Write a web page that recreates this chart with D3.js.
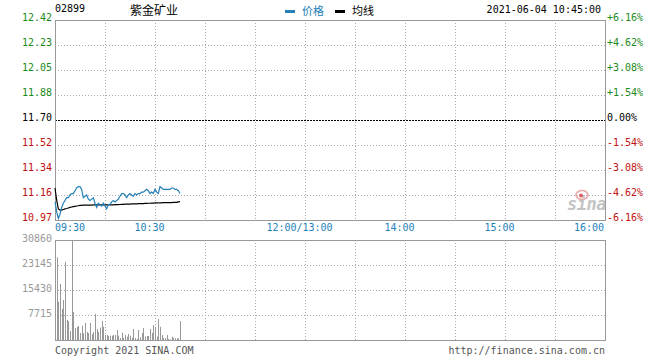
<!DOCTYPE html>
<html>
  <head>
    <meta charset="utf-8">
    <title>紫金矿业 分时</title>
    <script src="https://d3js.org/d3.v7.min.js"></script>
    <style>
      body { margin: 0; background: #fff; }
      text { font-family: "DejaVu Sans Mono", monospace; font-size: 10px; }
      .cjk { font-family: "Noto Sans CJK SC", sans-serif; }
    </style>
  </head>
  <body>
    <svg id="chart" width="660" height="360"></svg>
    <script>
      // 02899 minute data, 09:30 - 10:45 (one value per minute)
      const prevClose = 11.70;
      const maxPct = 0.0616;
      const prices = [
        11.11, 11.04, 10.99, 11.02, 11.07, 11.10, 11.12, 11.14, 11.14, 11.16,
        11.17, 11.17, 11.19, 11.21, 11.22, 11.22, 11.20, 11.14, 11.15, 11.16,
        11.13, 11.12, 11.13, 11.14, 11.10, 11.07, 11.10, 11.09, 11.08, 11.10,
        11.08, 11.06, 11.09, 11.09, 11.11, 11.12, 11.11, 11.12, 11.13, 11.15,
        11.17, 11.17, 11.16, 11.14, 11.16, 11.17, 11.16, 11.15, 11.17, 11.16,
        11.17, 11.17, 11.18, 11.18, 11.19, 11.20, 11.19, 11.17, 11.18, 11.17,
        11.20, 11.18, 11.17, 11.22, 11.21, 11.20, 11.20, 11.20, 11.20, 11.20,
        11.21, 11.21, 11.20, 11.20, 11.19, 11.17
      ];
      const avgPrices = [
        11.210, 11.123, 11.059, 11.051, 11.051, 11.055, 11.059, 11.062, 11.066, 11.070,
        11.073, 11.076, 11.078, 11.080, 11.082, 11.084, 11.085, 11.086, 11.087, 11.087,
        11.087, 11.087, 11.087, 11.088, 11.088, 11.088, 11.088, 11.088, 11.088, 11.088,
        11.088, 11.088, 11.088, 11.089, 11.089, 11.089, 11.090, 11.090, 11.090, 11.091,
        11.092, 11.092, 11.093, 11.093, 11.094, 11.094, 11.095, 11.095, 11.096, 11.096,
        11.097, 11.097, 11.098, 11.098, 11.099, 11.099, 11.100, 11.100, 11.101, 11.101,
        11.102, 11.102, 11.102, 11.103, 11.103, 11.104, 11.104, 11.104, 11.105, 11.105,
        11.105, 11.106, 11.106, 11.106, 11.110, 11.112
      ];
      const volumes = [
        20000, 25520, 11820, 17280, 9570, 12340, 24160, 6170, 5860, 2780,
        30860, 8640, 3700, 4010, 4320, 2160, 4410, 2160, 5250, 2470,
        2160, 5250, 1850, 2470, 8020, 3390, 2470, 3800, 5860, 4100,
        1540, 1540, 1230, 1330, 1330, 1540, 1540, 3090, 1330, 620,
        2250, 620, 1540, 1020, 1850, 1330, 710, 3390, 620, 310,
        3090, 830, 2160, 3700, 1020, 1230, 1230, 3390, 2160, 4630,
        4100, 1020, 6480, 4100, 1540, 620, 620, 1540, 310, 220,
        1020, 710, 520, 520, 520, 5860
      ];
      const volMax = 30860;

      const priceLabels = ["12.42", "12.23", "12.05", "11.88", "11.70", "11.52", "11.34", "11.16", "10.97"];
      const pctLabels = ["+6.16%", "+4.62%", "+3.08%", "+1.54%", "0.00%", "-1.54%", "-3.08%", "-4.62%", "-6.16%"];
      const volLabels = ["30860", "23145", "15430", "7715"];
      const timeTicks = [0, 60, 150, 210, 270, 330];
      const timeLabels = ["09:30", "10:30", "12:00/13:00", "14:00", "15:00", "16:00"];

      const green = "#1a8a1a", red = "#c01010", blue = "#2381b8", grid = "#aaa", frame = "#999";

      const svg = d3.select("#chart");
      const left = 55, right = 605;
      const pTop = 20, pBot = 220, vTop = 240, vBot = 340;

      // trading minutes since 09:30 (lunch removed)
      const x = d3.scaleLinear().domain([0, 330]).range([left, right]);
      const y = d3.scaleLinear()
        .domain([prevClose * (1 - maxPct), prevClose * (1 + maxPct)])
        .range([pBot, pTop]);
      const yv = d3.scaleLinear().domain([0, volMax]).range([vBot, vTop]);

      const levels = d3.range(9).map(k => prevClose * (1 + maxPct - k * maxPct / 4));
      const gridMinutes = d3.range(30, 330, 30);

      // grid: price pane
      svg.append("g").selectAll("line")
        .data(levels.filter((d, i) => i > 0 && i < 8 && i != 4))
        .join("line")
        .attr("x1", left).attr("x2", right)
        .attr("y1", d => Math.round(y(d)) + 0.5).attr("y2", d => Math.round(y(d)) + 0.5)
        .attr("stroke", grid).attr("stroke-dasharray", "1,2");
      svg.append("line")
        .attr("x1", left).attr("x2", right)
        .attr("y1", Math.round(y(prevClose)) + 0.5).attr("y2", Math.round(y(prevClose)) + 0.5)
        .attr("stroke", "#000").attr("stroke-dasharray", "2,1");
      svg.append("g").selectAll("line")
        .data(gridMinutes)
        .join("line")
        .attr("x1", d => Math.round(x(d)) + 0.5).attr("x2", d => Math.round(x(d)) + 0.5)
        .attr("y1", pTop).attr("y2", pBot)
        .attr("stroke", grid).attr("stroke-dasharray", "1,2");

      // grid: volume pane
      svg.append("g").selectAll("line")
        .data(volLabels.slice(1).map(Number))
        .join("line")
        .attr("x1", left).attr("x2", right)
        .attr("y1", d => Math.round(yv(d)) + 0.5).attr("y2", d => Math.round(yv(d)) + 0.5)
        .attr("stroke", grid).attr("stroke-dasharray", "1,2");
      svg.append("g").selectAll("line")
        .data(gridMinutes)
        .join("line")
        .attr("x1", d => Math.round(x(d)) + 0.5).attr("x2", d => Math.round(x(d)) + 0.5)
        .attr("y1", vTop).attr("y2", vBot)
        .attr("stroke", grid).attr("stroke-dasharray", "1,2");

      // sina watermark
      const logo = svg.append("g").attr("transform", "translate(567,210)");
      logo.append("text").text("sina")
        .attr("font-family", "DejaVu Sans").attr("font-style", "italic").attr("font-weight", "bold")
        .style("font-size", "17px").attr("fill", "#c4c4c4").attr("letter-spacing", "-0.5");
      logo.append("ellipse").attr("cx", 15).attr("cy", -15).attr("rx", 6).attr("ry", 4.5)
        .attr("fill", "none").attr("stroke", "#e8a8a8").attr("stroke-width", 1.6);
      logo.append("circle").attr("cx", 14).attr("cy", -14.5).attr("r", 2).attr("fill", "#d86060");

      // volume bars
      svg.append("g").selectAll("line")
        .data(volumes)
        .join("line")
        .attr("x1", (d, i) => Math.round(x(i)) + 0.5).attr("x2", (d, i) => Math.round(x(i)) + 0.5)
        .attr("y1", vBot).attr("y2", d => yv(d))
        .attr("stroke", "#999");

      // frames
      svg.append("rect").attr("x", left + 0.5).attr("y", pTop + 0.5)
        .attr("width", right - left).attr("height", pBot - pTop)
        .attr("fill", "none").attr("stroke", frame);
      svg.append("rect").attr("x", left + 0.5).attr("y", vTop + 0.5)
        .attr("width", right - left).attr("height", vBot - vTop)
        .attr("fill", "none").attr("stroke", frame);

      // price + average lines
      const line = d3.line().x((d, i) => x(i)).y(d => y(d));
      svg.append("path").datum(avgPrices).attr("d", line)
        .attr("fill", "none").attr("stroke", "#000").attr("stroke-width", 1.2);
      svg.append("path").datum(prices).attr("d", line)
        .attr("fill", "none").attr("stroke", blue).attr("stroke-width", 1.2);

      // left price labels
      const colorFor = i => i < 4 ? green : (i == 4 ? "#000" : red);
      svg.append("g").selectAll("text")
        .data(levels)
        .join("text")
        .attr("x", 52).attr("y", d => y(d) + 1)
        .attr("text-anchor", "end")
        .attr("fill", (d, i) => colorFor(i))
        .text((d, i) => priceLabels[i]);
      // right percent labels
      svg.append("g").selectAll("text")
        .data(levels)
        .join("text")
        .attr("x", 607).attr("y", d => y(d) + 1)
        .attr("fill", (d, i) => colorFor(i))
        .text((d, i) => pctLabels[i]);
      // volume labels
      svg.append("g").selectAll("text")
        .data(volLabels)
        .join("text")
        .attr("x", 52).attr("y", d => yv(+d) + 2)
        .attr("text-anchor", "end")
        .attr("fill", "#999")
        .text(d => d);

      // time labels
      svg.append("g").selectAll("text")
        .data(timeTicks)
        .join("text")
        .attr("x", (d, i) => i == 0 ? x(d) : (i == timeTicks.length - 1 ? x(d) - 1 : x(d) - 5.5))
        .attr("y", 231)
        .attr("text-anchor", (d, i) => i == 0 ? "start" : (i == timeTicks.length - 1 ? "end" : "middle"))
        .attr("fill", blue)
        .text((d, i) => timeLabels[i]);

      // header
      svg.append("text").attr("x", 55).attr("y", 12).attr("fill", "#000").text("02899");
      svg.append("text").attr("class", "cjk").attr("x", 130).attr("y", 14.5)
        .style("font-size", "12px").attr("fill", "#000").text("紫金矿业");
      svg.append("rect").attr("x", 285).attr("y", 10).attr("width", 10).attr("height", 3).attr("fill", blue);
      svg.append("text").attr("class", "cjk").attr("x", 302).attr("y", 14.5)
        .style("font-size", "11px").attr("fill", blue).text("价格");
      svg.append("rect").attr("x", 335).attr("y", 10).attr("width", 10).attr("height", 3).attr("fill", "#000");
      svg.append("text").attr("class", "cjk").attr("x", 352).attr("y", 14.5)
        .style("font-size", "11px").attr("fill", "#000").text("均线");
      svg.append("text").attr("x", 601).attr("y", 13).attr("text-anchor", "end")
        .attr("fill", "#000").text("2021-06-04 10:45:00");

      // footer
      svg.append("text").attr("x", 55).attr("y", 354).attr("fill", "#555").text("Copyright 2021 SINA.COM");
      svg.append("text").attr("x", 605).attr("y", 354).attr("text-anchor", "end")
        .attr("fill", "#555").text("http://finance.sina.com.cn");
    </script>
  </body>
</html>
